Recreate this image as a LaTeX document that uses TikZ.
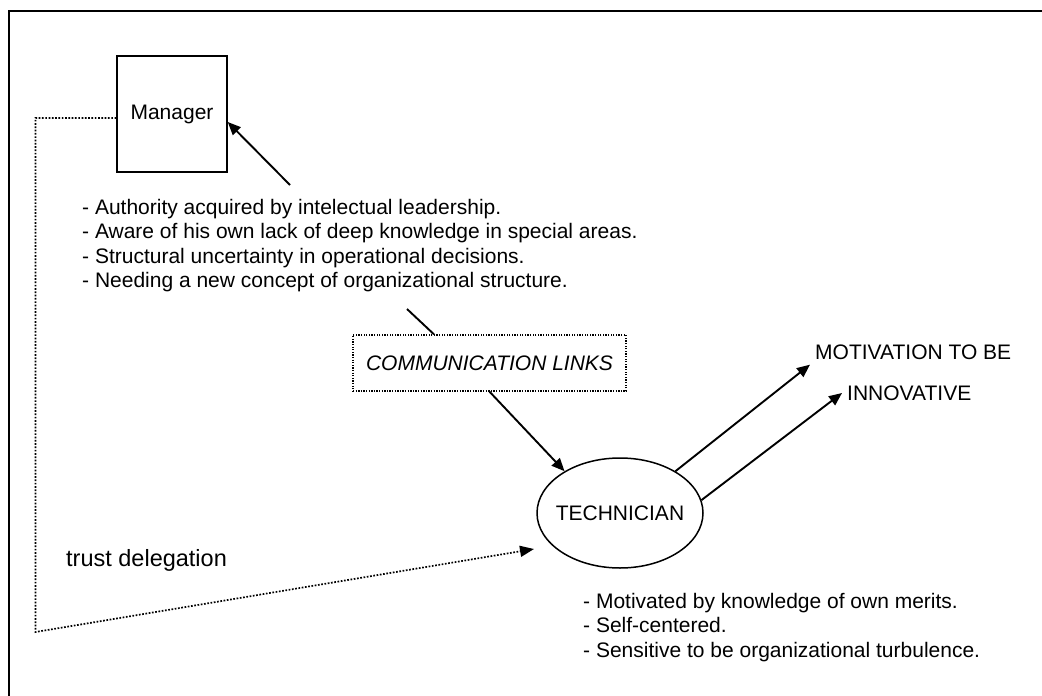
\documentclass[tikz,border=0pt]{standalone}
\usepackage{fontspec}
\setmainfont{Liberation Sans}
\usetikzlibrary{arrows.meta,shapes.geometric}

\begin{document}
\begin{tikzpicture}[x=1pt, y=-1pt,
    box/.style={draw, line width=1.5pt, minimum width=110pt, minimum height=116pt, font=\fontsize{21}{26}\selectfont},
    oval/.style={draw, ellipse, line width=1.5pt, minimum width=166pt, minimum height=110pt, inner xsep=-10pt, inner ysep=0pt, font=\fontsize{21}{26}\selectfont},
    linkbox/.style={draw, line width=1.3pt, dash pattern=on 1.3pt off 1.3pt, minimum width=273pt, minimum height=56pt, font=\fontsize{21}{26}\selectfont\itshape},
    notes/.style={align=left, inner sep=0pt, font=\fontsize{21}{24.5}\selectfont},
    goal/.style={inner sep=5pt, font=\fontsize{21}{26}\selectfont},
    arr/.style={-{Triangle[length=13pt, width=11pt]}, line width=1.9pt},
    trust/.style={line width=1.7pt, dash pattern=on 1.7pt off 1.6pt}
  ]
    \useasboundingbox (0,0) rectangle (1042,696);

    % Frame
    \draw[line width=2pt] (9,696) |- (1042,10.5);

    % Actors
    \node[box] (mgr) at (172,114) {Manager};
    \node[oval] (tech) at (620,513) {TECHNICIAN};
    \node[linkbox] (links) at (489.5,363) {COMMUNICATION LINKS};

    % Notes
    \node[notes, anchor=north west] (mgrnotes) at (82,199) {- Authority acquired by intelectual leadership.\\- Aware of his own lack of deep knowledge in special areas.\\- Structural uncertainty in operational decisions.\\- Needing a new concept of organizational structure.};
    \node[notes, anchor=north west] (technotes) at (583,593) {- Motivated by knowledge of own merits.\\- Self-centered.\\- Sensitive to be organizational turbulence.};
    \node[anchor=base west, inner sep=0pt, font=\fontsize{23.5}{28}\selectfont] (trustlbl) at (66,566) {trust delegation};

    % Goal
    \node[goal, anchor=west] (mot1) at (810,352) {MOTIVATION TO BE};
    \node[goal, anchor=west] (mot2) at (842,393) {INNOVATIVE};

    % Communication links
    \coordinate (gaplow) at (407,309);
    \coordinate (gaphigh) at (290,185);
    \draw[line width=1.9pt] ([xshift=-55.5pt]links.north) -- (gaplow);
    \draw[arr] (gaphigh) -- ([yshift=-8pt]mgr.east);
    \draw[arr] (links.south) -- (tech.143);

    % Motivation arrows
    \draw[arr] (tech.37) -- (mot1.south west);
    \draw[arr] (tech.9) -- (mot2.west);

    % Trust delegation
    \coordinate (turn) at (35.5,632);
    \coordinate (trustend) at (534,549);
    \draw[trust, -{Triangle[length=14pt, width=11pt]}] ([yshift=-4pt]mgr.west) -| (turn) -- (trustend);
  \end{tikzpicture}
\end{document}
